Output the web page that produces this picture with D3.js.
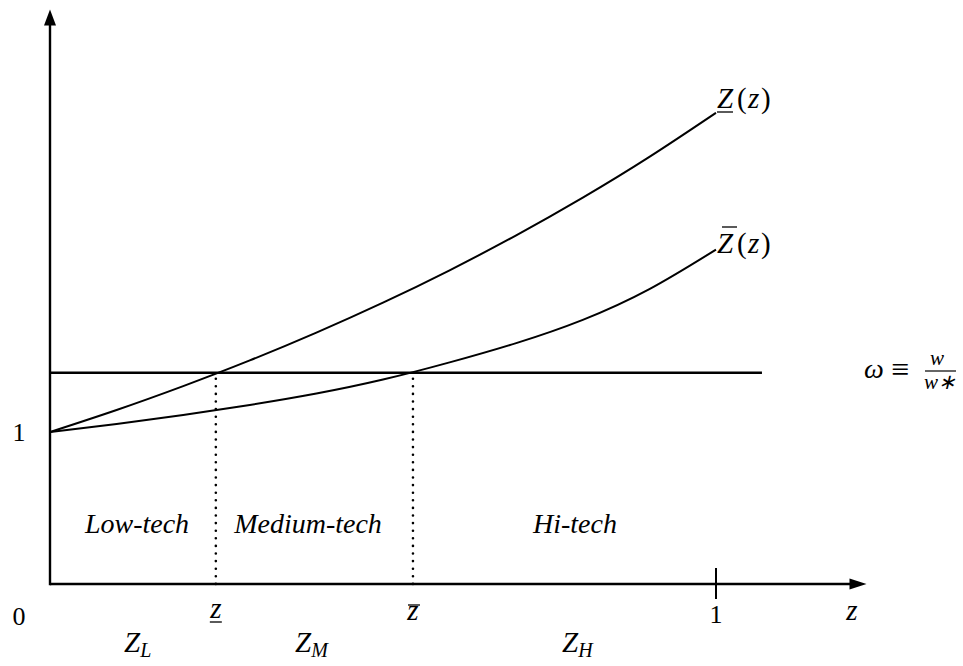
<!DOCTYPE html>
<html>
<head>
<meta charset="utf-8">
<script src="https://cdn.jsdelivr.net/npm/d3@7"></script>
</head>
<body style="margin:0">
<div id="chart"></div>
<script>
// z grid and the two cutoff curves
const zGrid = [0, 0.1, 0.2, 0.3, 0.4, 0.5, 0.6, 0.7, 0.8, 0.9, 1.0];
const zUnderVals = [1.0, 1.145, 1.302, 1.471, 1.654, 1.851, 2.064, 2.294, 2.542, 2.81, 3.1];
const zBarVals = [1.0, 1.053, 1.112, 1.178, 1.253, 1.345, 1.458, 1.585, 1.738, 1.94, 2.2];
const omegaLevel = 1.39;
const zCuts = [0.249, 0.545];
const regionNames = ['Low-tech', 'Medium-tech', 'Hi-tech'];
const regionSets = [['Z', 'L'], ['Z', 'M'], ['Z', 'H']];

const width = 963, height = 666;
const svg = d3.select('#chart').append('svg')
  .attr('width', width)
  .attr('height', height)
  .attr('font-family', 'Liberation Serif');

const x = d3.scaleLinear().domain([0, 1]).range([50, 716]);
const y = d3.scaleLinear().domain([0, 1]).range([584, 432]);

const xMax = 1.226, yMax = 3.78, omegaEnd = 1.069;

// axes
svg.append('line')
  .attr('x1', x(0)).attr('x2', x(xMax) - 6)
  .attr('y1', y(0)).attr('y2', y(0))
  .attr('stroke', '#000').attr('stroke-width', 2.4);
svg.append('line')
  .attr('x1', x(0)).attr('x2', x(0))
  .attr('y1', y(0) + 1.2).attr('y2', y(yMax) + 6)
  .attr('stroke', '#000').attr('stroke-width', 2.4);

// arrow heads
svg.append('path')
  .attr('d', `M${x(0)},${y(yMax)} L${x(0) - 6},${y(yMax) + 16} L${x(0) + 6},${y(yMax) + 16} Z`)
  .attr('fill', '#000');
svg.append('path')
  .attr('d', `M${x(xMax)},${y(0)} L${x(xMax) - 17},${y(0) - 5.5} L${x(xMax) - 17},${y(0) + 5.5} Z`)
  .attr('fill', '#000');

// tick at z = 1
svg.append('line')
  .attr('x1', x(1)).attr('x2', x(1))
  .attr('y1', y(0) - 16).attr('y2', y(0) + 15)
  .attr('stroke', '#000').attr('stroke-width', 2);

// omega line
svg.append('line')
  .attr('x1', x(0)).attr('x2', x(omegaEnd))
  .attr('y1', y(omegaLevel)).attr('y2', y(omegaLevel))
  .attr('stroke', '#000').attr('stroke-width', 2.4);

// dotted cutoffs
zCuts.forEach(c => {
  svg.append('line')
    .attr('x1', x(c)).attr('x2', x(c))
    .attr('y1', y(omegaLevel) + 6).attr('y2', y(0))
    .attr('stroke', '#000').attr('stroke-width', 2.6)
    .attr('stroke-linecap', 'round')
    .attr('stroke-dasharray', '0 7.6');
});

// curves
const line = d3.line()
  .x(d => x(d[0]))
  .y(d => y(d[1]))
  .curve(d3.curveNatural);

[zUnderVals, zBarVals].forEach(vals => {
  svg.append('path')
    .datum(zGrid.map((z, i) => [z, vals[i]]))
    .attr('d', line)
    .attr('fill', 'none')
    .attr('stroke', '#000')
    .attr('stroke-width', 2);
});

// text helper
function label(px, py, str, size, italic, anchor) {
  return svg.append('text')
    .attr('x', px).attr('y', py)
    .style('font-family', '"Liberation Serif"')
    .style('font-size', size + 'px')
    .style('font-style', italic ? 'italic' : 'normal')
    .attr('text-anchor', anchor || 'start')
    .text(str);
}
function hbar(x1, x2, yy, w) {
  svg.append('line').attr('x1', x1).attr('x2', x2).attr('y1', yy).attr('y2', yy)
    .attr('stroke', '#000').attr('stroke-width', w || 1.3);
}

// axis numbers
label(19, 625, '0', 26, false, 'middle');
label(19, 441, '1', 26, false, 'middle');
label(x(1), 623, '1', 26, false, 'middle');
label(852, 620, 'z', 29, true, 'middle');

// cutoff labels: underline z and bar z
label(x(zCuts[0]), 618, 'z', 29, true, 'middle');
hbar(x(zCuts[0]) - 6, x(zCuts[0]) + 6, 622);
label(x(zCuts[1]), 620, 'z', 29, true, 'middle');
hbar(x(zCuts[1]) - 5, x(zCuts[1]) + 7, 605);

// region labels
const regionX = [137, 308, 575];
regionNames.forEach((n, i) => {
  label(regionX[i], 533, n, 28, true, 'middle');
  const t = label(regionX[i] - 13, 652, '', 29, true);
  t.append('tspan').text(regionSets[i][0]);
  t.append('tspan').attr('dy', 5).style('font-size', '20px').text(regionSets[i][1]);
});

// curve labels
function curveLabel(py, bar) {
  label(717, py, 'Z', 29, true);
  if (bar) hbar(722, 737, py - 26);
  else hbar(717, 733, py + 4);
  label(737, py, '(', 29, false);
  label(748, py, 'z', 29, true);
  label(761, py, ')', 29, false);
}
curveLabel(108, false);
curveLabel(253, true);

// omega = w / w*
label(864, 378, 'ω', 28, true);
label(891, 380, '≡', 32, false);
label(937, 365, 'w', 21, true, 'middle');
hbar(925, 956, 371, 1.2);
label(940, 389, 'w∗', 21, true, 'middle');
</script>
</body>
</html>
